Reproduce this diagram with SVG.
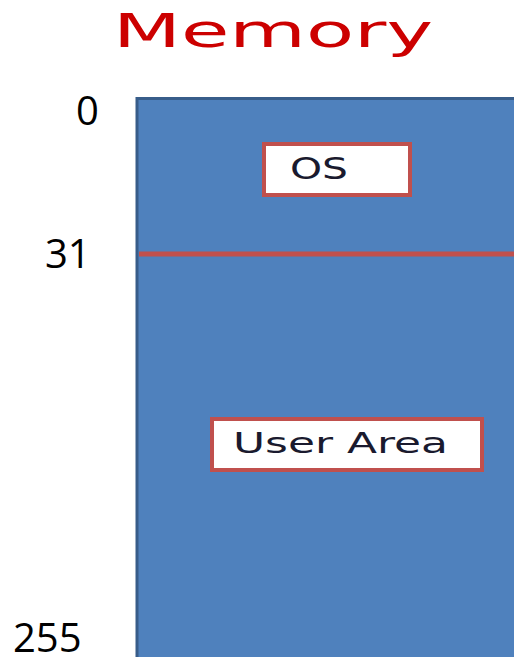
<svg xmlns="http://www.w3.org/2000/svg" width="514" height="657" viewBox="0 0 514 657">
  <style>
    .addr { font-family: "Open Sans", "Liberation Sans", sans-serif; font-size: 40px; fill: #000; }
    .lbl { font-family: "DejaVu Sans", Verdana, sans-serif; fill: #1a1a2e; }
    .box { fill: #fff; stroke: #C0504D; stroke-width: 4; }
  </style>
  <rect width="514" height="657" fill="#fff"/>
  <text x="113" y="47" font-family="DejaVu Sans, Verdana, sans-serif" font-size="46" fill="#CC0000" textLength="320" lengthAdjust="spacingAndGlyphs">Memory</text>

  <g id="memory-block">
    <rect x="137" y="98.5" width="390" height="570" fill="#4F81BD" stroke="#385D8A" stroke-width="3"/>
    <line x1="139" y1="254" x2="514" y2="254" stroke="#C0504D" stroke-width="5"/>
  </g>

  <g id="os">
    <rect class="box" x="264" y="144" width="146" height="51"/>
    <text class="lbl" x="290" y="179" font-size="31" textLength="58" lengthAdjust="spacingAndGlyphs">OS</text>
  </g>

  <g id="user-area">
    <rect class="box" x="212" y="419" width="270" height="51"/>
    <text class="lbl" x="233" y="453" font-size="29" textLength="215" lengthAdjust="spacingAndGlyphs">User Area</text>
  </g>

  <g id="addresses">
    <text class="addr" x="76" y="125">0</text>
    <text class="addr" x="45" y="268">31</text>
    <text class="addr" x="13" y="652">255</text>
  </g>
</svg>
